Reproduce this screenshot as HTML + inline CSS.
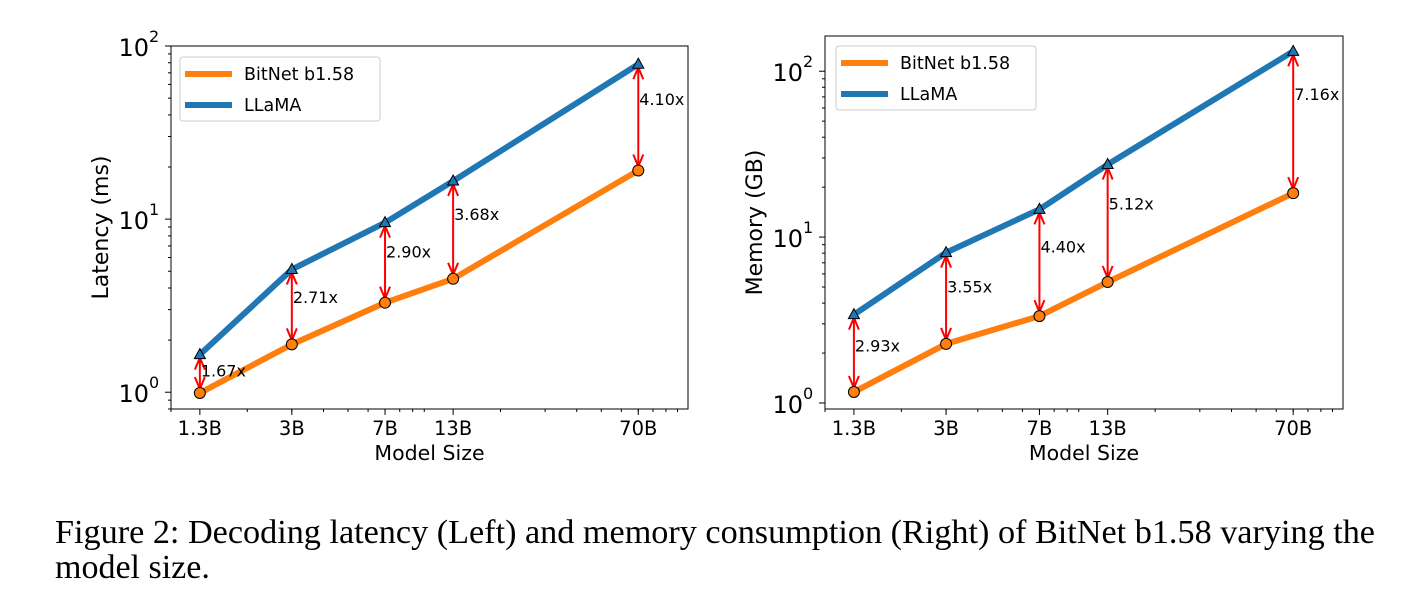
<!DOCTYPE html>
<html><head><meta charset="utf-8">
<style>
body{margin:0;background:#fff;width:1414px;height:611px;overflow:hidden;}
svg{position:absolute;left:0;top:0;}
.cap{position:absolute;left:55px;top:0;font-family:"Liberation Serif",serif;font-size:33.5px;color:#000;width:1360px;white-space:nowrap;}
.cap div{position:absolute;left:0;}
</style></head>
<body>
<svg id="fig" width="1414" height="611"></svg>
<div class="cap">
<svg width="1360" height="611" style="position:absolute;left:0;top:0">
<text x="0" y="543" font-family="Liberation Serif, serif" font-size="34" textLength="1320" lengthAdjust="spacingAndGlyphs">Figure 2: Decoding latency (Left) and memory consumption (Right) of BitNet b1.58 varying the</text>
<text x="0" y="578" font-family="Liberation Serif, serif" font-size="34">model size.</text>
</svg>
</div>
<script>
const categories = ["1.3B","3B","7B","13B","70B"];
const categorySizes = [1.3, 3, 7, 13, 70];
const latencyBitnet = [0.99, 1.89, 3.29, 4.52, 19.1];
const latencyLlama = [1.65, 5.12, 9.54, 16.6, 78.5];
const latencyRatios = ["1.67x","2.71x","2.90x","3.68x","4.10x"];
const memoryBitnet = [1.165, 2.27, 3.34, 5.36, 18.4];
const memoryLlama = [3.41, 8.06, 14.7, 27.4, 131.7];
const memoryRatios = ["2.93x","3.55x","4.40x","5.12x","7.16x"];
const seriesNames = ["BitNet b1.58","LLaMA"];

const NS="http://www.w3.org/2000/svg";
const svg=document.getElementById('fig');
function mk(tag,attrs,parent,text){const e=document.createElementNS(NS,tag);for(const k in attrs)e.setAttribute(k,attrs[k]);if(text!==undefined)e.textContent=text;(parent||svg).appendChild(e);return e;}
const FONT='"DejaVu Sans","Liberation Sans",sans-serif';

function chart(cfg){
  const g=mk('g',{});
  
  
  const L=cfg.left,R=cfg.right,T=cfg.top,B=cfg.bottom;
  const lx0=Math.log10(cfg.xmin),lx1=Math.log10(cfg.xmax);
  const ly0=Math.log10(cfg.ymin),ly1=Math.log10(cfg.ymax);
  const X=v=>L+(Math.log10(v)-lx0)/(lx1-lx0)*(R-L);
  const Y=v=>B-(Math.log10(v)-ly0)/(ly1-ly0)*(B-T);
  const frame=mk('rect',{x:L,y:T,width:R-L,height:B-T,fill:'none',stroke:'#000','stroke-width':1},g);
  
  
  for(let d=0;d<=2;d++)for(let m=1;m<10;m++){const v=m*Math.pow(10,d);if(v<cfg.xmin||v>cfg.xmax)continue;
    mk('line',{x1:X(v),x2:X(v),y1:B,y2:B+3,stroke:'#000','stroke-width':1},g);}
  categorySizes.forEach((s,i)=>{
    mk('line',{x1:X(s),x2:X(s),y1:B,y2:B+6,stroke:'#000','stroke-width':1},g);
    const t=mk('text',{x:X(s),y:B+26,'text-anchor':'middle','font-family':FONT,'font-size':19.5},g,categories[i]);
    
    
  });
  const xl=mk('text',{x:(L+R)/2,y:B+51,'text-anchor':'middle','font-family':FONT,'font-size':20.5},g,'Model Size');
  
  
  for(let d=-1;d<=3;d++)for(let m=1;m<10;m++){const v=m*Math.pow(10,d);if(v<cfg.ymin||v>cfg.ymax)continue;
    const len=m===1?6:3;
    mk('line',{x1:L-len,x2:L,y1:Y(v),y2:Y(v),stroke:'#000','stroke-width':1},g);
    if(m===1){
      const t=mk('text',{x:L-22,y:Y(v)+10,'text-anchor':'end','font-family':FONT,'font-size':24},g,'10');
      
      
      mk('text',{x:L-22,y:Y(v)-4,'text-anchor':'start','font-family':FONT,'font-size':16},g,String(d));
    }}
  const yl=mk('text',{x:0,y:0,'text-anchor':'middle','font-family':FONT,'font-size':22,transform:`translate(${L-63},${(T+B)/2}) rotate(-90)`},g,cfg.ylabel);
  
  
  const cols=['#ff7f0e','#1f77b4'];
  [cfg.bit,cfg.llama].forEach((arr,si)=>{
    const p=mk('polyline',{points:arr.map((v,i)=>X(categorySizes[i])+','+Y(v)).join(' '),fill:'none',stroke:cols[si],'stroke-width':6,'stroke-linejoin':'round'},g);
    
    
  });
  cfg.bit.forEach((v,i)=>{
    const x=X(categorySizes[i]),y1=Y(cfg.llama[i])+3,y2=Y(v)-4;
    const a=mk('g',{stroke:'#ff0000','stroke-width':2,fill:'none'},g);
    
    
    mk('line',{x1:x,x2:x,y1:y1,y2:y2},a);
    mk('polyline',{points:`${x-5},${y1+12} ${x},${y1} ${x+5},${y1+12}`},a);
    mk('polyline',{points:`${x-5},${y2-12} ${x},${y2} ${x+5},${y2-12}`},a);
    const ty=Y((v+cfg.llama[i])/2)+cfg.labOff;
    const t=mk('text',{x:x+1,y:ty,'font-family':FONT,'font-size':16},g,cfg.ratios[i]);
    
    
  });
  cfg.bit.forEach((v,i)=>{
    const c=mk('circle',{cx:X(categorySizes[i]),cy:Y(v),r:5.5,fill:'#ff7f0e',stroke:'#000','stroke-width':1},g);
    
    
  });
  cfg.llama.forEach((v,i)=>{
    const x=X(categorySizes[i]),y=Y(v);
    const p=mk('polygon',{points:`${x},${y-6} ${x-5.5},${y+4} ${x+5.5},${y+4}`,fill:'#1f77b4',stroke:'#000','stroke-width':1},g);
    
    
  });
  const lg=mk('g',{},g);
  
  
  const lx=cfg.legX,ly=cfg.legY;
  mk('rect',{x:lx,y:ly,width:200,height:64,rx:3,fill:'#fff',stroke:'#ccc','stroke-width':1},lg);
  seriesNames.forEach((n,i)=>{
    const yy=ly+17+i*31;
    mk('line',{x1:lx+5,x2:lx+52,y1:yy,y2:yy,stroke:cols[i],'stroke-width':6},lg);
    const t=mk('text',{x:lx+64,y:yy+6,'font-family':FONT,'font-size':17.5},lg,n);
    
    
  });
}
chart({name:'latency-chart',left:171,right:688,top:46,bottom:409,xmin:1,xmax:110,ymin:0.8,ymax:100,
  bit:latencyBitnet,llama:latencyLlama,ratios:latencyRatios,ylabel:'Latency (ms)',legX:180,legY:57,labOff:5});
chart({name:'memory-chart',left:825,right:1343,top:36,bottom:409,xmin:1,xmax:110,ymin:0.92,ymax:163,
  bit:memoryBitnet,llama:memoryLlama,ratios:memoryRatios,ylabel:'Memory (GB)',legX:836,legY:46,labOff:8});
</script>
</body></html>
